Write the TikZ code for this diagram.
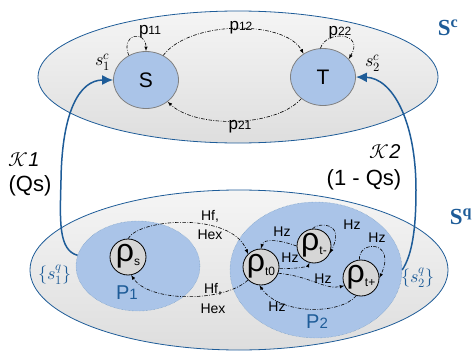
\documentclass[tikz,border=0pt]{standalone}
\usepackage{fontspec}
\usepackage{unicode-math}
\setmainfont{Liberation Sans}
\newfontfamily\serifbf{Liberation Serif}
\setmathfont{Latin Modern Math}
\usetikzlibrary{calc,shapes,arrows.meta}
\tikzstyle{every picture}=[>=latex]

\definecolor{setblue}{RGB}{30,92,152}
\definecolor{stateblue}{RGB}{170,196,232}
\definecolor{rhogray}{RGB}{214,214,214}

\tikzset{
  trans/.style={->,line width=0.6pt,dash pattern=on 3.5pt off 1.5pt on 0.8pt off 1.5pt},
  jump/.style={-{Latex[length=11pt,width=10pt]},setblue,line width=1.5pt},
  state/.style={ellipse,draw=gray,line width=0.8pt,fill=stateblue,minimum width=65pt,minimum height=57pt,font=\fontsize{21}{24}\selectfont},
  rhonode/.style={circle,draw,line width=0.8pt,fill=rhogray,minimum size=36pt,inner sep=0pt},
  part/.style={ellipse,draw=setblue!70,densely dotted,fill=stateblue},
  setbox/.style={draw=setblue,line width=0.8pt,top color=gray!8,bottom color=gray!26},
  lab/.style={font=\fontsize{14}{20}\selectfont,align=center,inner sep=0pt},
  setlab/.style={text=setblue,font=\serifbf\bfseries\fontsize{23}{23}\selectfont,inner sep=0pt},
}
\newcommand{\rhosub}[1]{\makebox[0pt]{\smash{\raisebox{-4pt}{\fontsize{32}{32}\selectfont ρ}\raisebox{-8pt}{\fontsize{12}{12}\selectfont #1}}}}
\newcommand{\psub}[1]{{\fontsize{17}{17}\selectfont p}{\fontsize{12}{12}\selectfont #1}}
\newcommand{\Psub}[1]{{\fontsize{20}{20}\selectfont P}{\fontsize{15}{15}\selectfont #1}}

\begin{document}
\begin{tikzpicture}[x=1pt,y=-1pt]
    \useasboundingbox (0,0) rectangle (472,351);

    % the two sets
    \draw[setbox] (238,77) ellipse [x radius=200,y radius=66];
    \draw[setbox] (239,270) ellipse [x radius=209,y radius=80];
    \node[setlab] (Sc) at (448,28) {S\textsuperscript{c}};
    \node[setlab] (Sq) at (461,217) {S\textsuperscript{q}};

    % partitions of S^q
    \node[part,minimum width=124pt,minimum height=90pt] (Pone) at (138,266) {};
    \node[part,minimum width=172pt,minimum height=136pt] (Ptwo) at (316,270) {};
    \node[text=setblue,inner sep=0pt] (lP1) at (127,293) {\Psub{1}};
    \node[text=setblue,inner sep=0pt] (lP2) at (317,322) {\Psub{2}};

    % classical states
    \node[state] (S) at (146,80) {S};
    \node[state] (T) at (323,77) {T};

    % quantum states
    \node[rhonode] (rs) at (128,257) {\rhosub{s}};
    \node[rhonode] (rt0) at (261,267) {\rhosub{t0}};
    \node[rhonode,minimum size=34pt] (rtm) at (314,246) {\rhosub{t-}};
    \node[rhonode] (rtp) at (361,278) {\rhosub{t+}};

    % transitions in S^c
    \draw[trans] (S.125) .. controls (120,33) and (146,30) .. (S.north);
    \draw[trans] (S.55) .. controls (190,20) and (285,20) .. (T.130);
    \draw[trans] (T.95) .. controls (326,30) and (365,32) .. (T.35);
    \draw[trans] (T.225) .. controls (275,128) and (195,128) .. (S.-45);
    \node[lab] (l11) at (150,32) {\psub{11}};
    \node[lab] (l12) at (241,28) {\psub{12}};
    \node[lab] (l22) at (340,33) {\psub{22}};
    \node[lab] (l21) at (240,127) {\psub{21}};
    \node[font=\fontsize{18}{18}\selectfont,inner sep=0pt] (s1c) at (103,62) {$\mathscr{s}^{c}_{1}$};
    \node[font=\fontsize{18}{18}\selectfont,inner sep=0pt] (s2c) at (373,63) {$\mathscr{s}^{c}_{2}$};

    % transitions in S^q
    \draw[trans] (rs.north) .. controls (140,218) and (232,212) .. (rt0.135);
    \draw[trans] (rt0.225) .. controls (225,302) and (150,303) .. (rs.-80);
    \node[lab] (hf1) at (210,225) {Hf,\\Hex};
    \node[lab] (hf2) at (213,298) {Hf,\\Hex};

    \draw[trans] (rtm.180) .. controls (280,240) and (264,238) .. (rt0.north);
    \draw[trans] (rt0.-5) .. controls (298,269) and (308,266) .. (rtm.255);
    \draw[trans] (rtm.95) .. controls (318,222) and (346,222) .. (rtm.-25);
    \draw[trans] (rtp.95) .. controls (358,240) and (397,240) .. (rtp.0);
    \draw[trans] (rt0.-20) .. controls (310,276) and (325,290) .. (rtp.205);
    \draw[trans] (rtp.255) .. controls (340,315) and (280,315) .. (rt0.-95);
    \node[lab] (hz1) at (282,232) {Hz};
    \node[lab] (hz2) at (290,258) {Hz};
    \node[lab] (hz3) at (352,225) {Hz};
    \node[lab] (hz4) at (377,238) {Hz};
    \node[lab] (hz5) at (323,279) {Hz};
    \node[lab] (hz6) at (277,307) {Hz};

    % jumps from S^q to S^c
    \draw[jump] (Pone.170) .. controls (58,250) and (60,220) .. (61,180)
        .. controls (62,110) and (80,80) .. (S.west);
    \draw[jump] (Ptwo.east) .. controls (412,255) and (416,230) .. (416,190)
        .. controls (416,120) and (392,78) .. (T.east);
    \node[text=setblue,font=\fontsize{18}{18}\selectfont,inner sep=0pt] (s1q) at (55,275) {$\{\mathscr{s}^{q}_{1}\}$};
    \node[text=setblue,font=\fontsize{18}{18}\selectfont,inner sep=0pt] (s2q) at (418,278) {$\{\mathscr{s}^{q}_{2}\}$};
    \node[font=\fontsize{20}{20}\selectfont,inner sep=0pt] (K1) at (24,160) {$\mathscr{K}$\textit{1}};
    \node[font=\fontsize{22}{22}\selectfont,inner sep=0pt] (Q1) at (30,186) {(Qs)};
    \node[font=\fontsize{20}{20}\selectfont,inner sep=0pt] (K2) at (385,152) {$\mathscr{K}$\textit{2}};
    \node[font=\fontsize{22}{22}\selectfont,inner sep=0pt] (Q2) at (364,180) {(1 - Qs)};

\end{tikzpicture}
\end{document}
